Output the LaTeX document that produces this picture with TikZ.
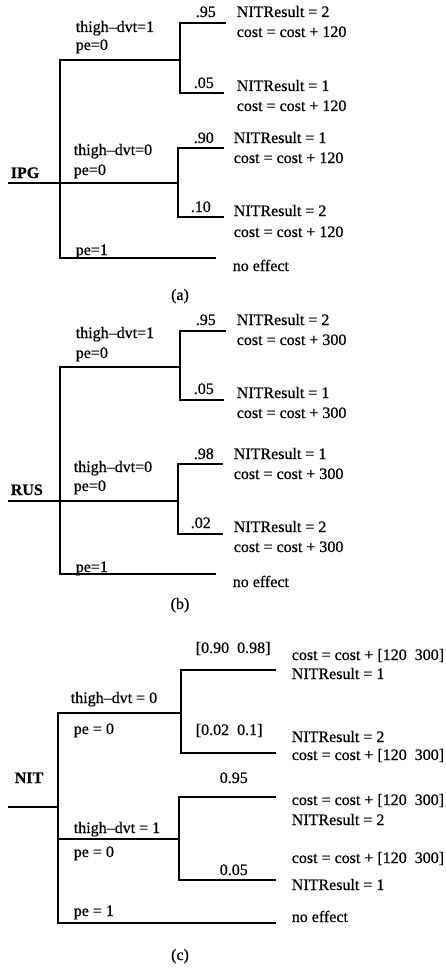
\documentclass[tikz,border=0pt]{standalone}
\usepackage{fontspec}
\setmainfont{Liberation Serif}[FakeBold=0.6]
\usetikzlibrary{positioning}

\begin{document}
\begin{tikzpicture}[x=1pt,y=-1pt,line width=1.6pt,
  txt/.style={anchor=base west,inner sep=0pt,font=\fontsize{16}{19}\selectfont},
  root/.style={txt,font=\fontsize{16}{19}\selectfont\bfseries},
  caption/.style={anchor=base,inner sep=0pt,font=\fontsize{16}{19}\selectfont}]
\useasboundingbox (0,0) rectangle (445,971);

% (a) IPG
\coordinate (ipg) at (8,183);
\coordinate (ipgJ) at (60,183);
\coordinate (ipgA) at (180,60);
\coordinate (ipgB) at (178,183);
\coordinate (ipgA1) at (226,23);
\coordinate (ipgA2) at (224,93);
\coordinate (ipgB1) at (224,148);
\coordinate (ipgB2) at (224,217);
\coordinate (ipgC) at (216,258);
\draw (ipg) -- (ipgB);
\draw (ipgA) -| (ipgJ) |- (ipgC);
\draw (ipgA1) -| (ipgA) |- (ipgA2);
\draw (ipgB1) -| (ipgB) |- (ipgB2);

\node[root] (IPG) at (10,178) {IPG};
\node[txt] (aT1) at (75,32) {thigh--dvt=1};
\node[txt] (aP1) at (75,50) {pe=0};
\node[txt] (aT0) at (73,155) {thigh--dvt=0};
\node[txt] (aP0) at (73,175) {pe=0};
\node[txt] (aP2) at (75,255) {pe=1};
\node[txt] (aq1) at (195,17) {.95};
\node[txt] (aq2) at (193,88) {.05};
\node[txt] (aq3) at (193,143) {.90};
\node[txt] (aq4) at (190,212) {.10};
\node[txt] (aR1) at (236,17) {NITResult = 2};
\node[txt] (aC1) at (236,37) {cost = cost + 120};
\node[txt] (aR2) at (236,91) {NITResult = 1};
\node[txt] (aC2) at (236,111) {cost = cost + 120};
\node[txt] (aR3) at (233,143) {NITResult = 1};
\node[txt] (aC3) at (233,163) {cost = cost + 120};
\node[txt] (aR4) at (233,216) {NITResult = 2};
\node[txt] (aC4) at (233,237) {cost = cost + 120};
\node[txt] (aN) at (232,271) {no effect};
\node[caption] (capA) at (180,300) {(a)};

% (b) RUS
\coordinate (rus) at (8,501);
\coordinate (rusJ) at (60,501);
\coordinate (rusA) at (180,367);
\coordinate (rusB) at (178,501);
\coordinate (rusA1) at (226,331);
\coordinate (rusA2) at (224,400);
\coordinate (rusB1) at (223,464);
\coordinate (rusB2) at (223,534);
\coordinate (rusC) at (216,574);
\draw (rus) -- (rusB);
\draw (rusA) -| (rusJ) |- (rusC);
\draw (rusA1) -| (rusA) |- (rusA2);
\draw (rusB1) -| (rusB) |- (rusB2);

\node[root] (RUS) at (10,495) {RUS};
\node[txt] (bT1) at (75,338) {thigh--dvt=1};
\node[txt] (bP1) at (75,358) {pe=0};
\node[txt] (bT0) at (73,472) {thigh--dvt=0};
\node[txt] (bP0) at (73,491) {pe=0};
\node[txt] (bP2) at (75,572) {pe=1};
\node[txt] (bq1) at (195,325) {.95};
\node[txt] (bq2) at (193,394) {.05};
\node[txt] (bq3) at (193,459) {.98};
\node[txt] (bq4) at (190,528) {.02};
\node[txt] (bR1) at (236,325) {NITResult = 2};
\node[txt] (bC1) at (236,345) {cost = cost + 300};
\node[txt] (bR2) at (236,398) {NITResult = 1};
\node[txt] (bC2) at (236,418) {cost = cost + 300};
\node[txt] (bR3) at (233,459) {NITResult = 1};
\node[txt] (bC3) at (233,479) {cost = cost + 300};
\node[txt] (bR4) at (233,532) {NITResult = 2};
\node[txt] (bC4) at (233,552) {cost = cost + 300};
\node[txt] (bN) at (232,587) {no effect};
\node[caption] (capB) at (180,609) {(b)};

% (c) NIT
\coordinate (nit) at (8,807);
\coordinate (nitJ) at (58,807);
\coordinate (nitA) at (181,713);
\coordinate (nitB) at (179,839);
\coordinate (nitA1) at (276,670);
\coordinate (nitA2) at (276,753);
\coordinate (nitB1) at (276,797);
\coordinate (nitB2) at (276,880);
\coordinate (nitC) at (276,923);
\draw (nit) -- (nitJ);
\draw (nitA) -| (nitJ) |- (nitC);
\draw (nitJ |- nitB) -- (nitB);
\draw (nitA1) -| (nitA) |- (nitA2);
\draw (nitB1) -| (nitB) |- (nitB2);

\node[root] (NIT) at (14,783) {NIT};
\node[txt] (cT0) at (70,703) {thigh--dvt = 0};
\node[txt] (cP0) at (73,734) {pe = 0};
\node[txt] (cT1) at (73,833) {thigh--dvt = 1};
\node[txt] (cP1) at (73,857) {pe = 0};
\node[txt] (cP2) at (73,916) {pe = 1};
\node[txt] (cq1) at (195,653) {[0.90\enspace 0.98]};
\node[txt] (cq2) at (195,735) {[0.02\enspace 0.1]};
\node[txt] (cq3) at (219,783) {0.95};
\node[txt] (cq4) at (219,875) {0.05};
\node[txt] (cC1) at (291,660) {cost = cost + [120\enspace 300]};
\node[txt] (cR1) at (291,679) {NITResult = 1};
\node[txt] (cR2) at (291,742) {NITResult = 2};
\node[txt] (cC2) at (291,760) {cost = cost + [120\enspace 300]};
\node[txt] (cC3) at (291,805) {cost = cost + [120\enspace 300]};
\node[txt] (cR3) at (291,825) {NITResult = 2};
\node[txt] (cC4) at (291,863) {cost = cost + [120\enspace 300]};
\node[txt] (cR4) at (291,890) {NITResult = 1};
\node[txt] (cN) at (291,922) {no effect};
\node[caption] (capC) at (180,960) {(c)};
\end{tikzpicture}
\end{document}
